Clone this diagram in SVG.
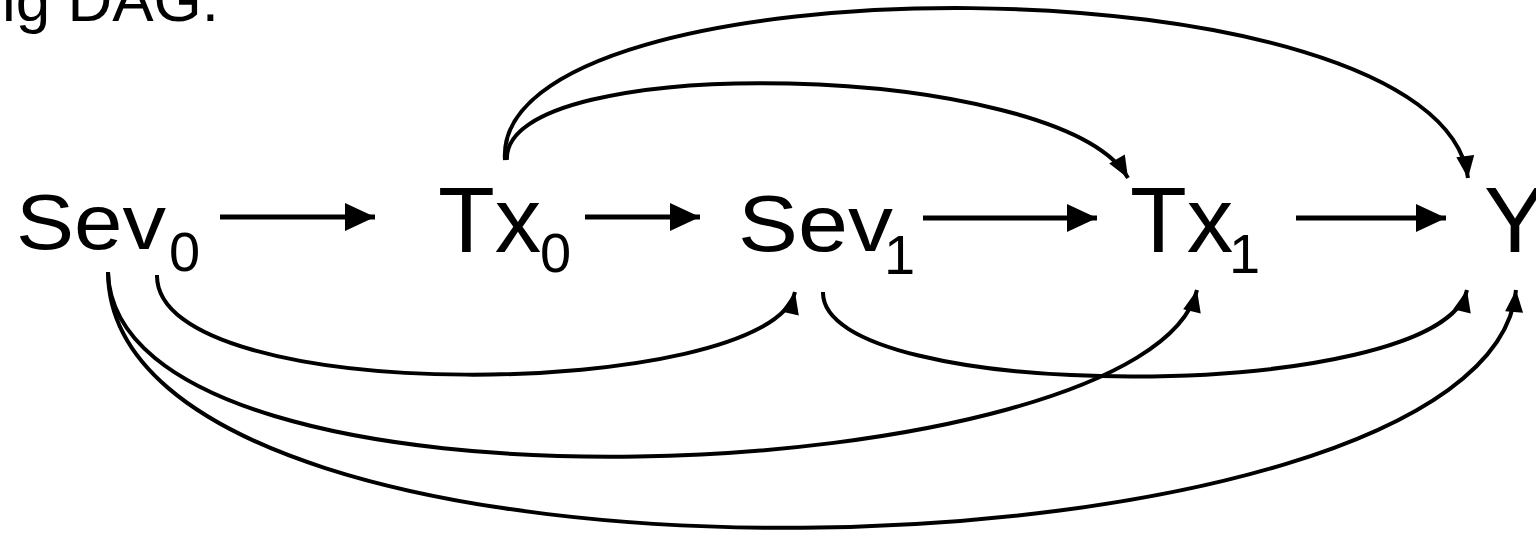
<svg xmlns="http://www.w3.org/2000/svg" width="1536" height="541" viewBox="0 0 1536 541">
  <style>
    .lbl { font-family: "Liberation Sans", Arial, sans-serif; fill: #000; }
    .edge { fill: none; stroke: #000; }
    .straight { stroke-width: 5; marker-end: url(#headBig); }
    .curve { stroke-width: 4; marker-end: url(#headSmall); }
  </style>
  <defs>
    <marker id="headBig" markerUnits="userSpaceOnUse" markerWidth="32" markerHeight="30" refX="30" refY="14" orient="auto" overflow="visible">
      <path d="M0,0 L30,14 L0,28 Z" fill="#000"/>
    </marker>
    <marker id="headSmall" markerUnits="userSpaceOnUse" markerWidth="24" markerHeight="20" refX="22" refY="9" orient="auto" overflow="visible">
      <path d="M0,0 L22,9 L0,18 Z" fill="#000"/>
    </marker>
  </defs>

  <rect width="1536" height="541" fill="#fff"/>

  <text class="lbl" x="2" y="21" font-size="62">ig DAG.</text>

  <g id="connectors">
    <!-- straight chain -->
    <line class="edge straight" x1="220" y1="217" x2="375" y2="217"/>
    <line class="edge straight" x1="585" y1="217" x2="700" y2="217"/>
    <line class="edge straight" x1="923" y1="218" x2="1097" y2="218"/>
    <line class="edge straight" x1="1296" y1="218" x2="1446" y2="218"/>
    <!-- arcs over the top from Tx0 -->
    <path class="edge curve" d="M507,160 C500,50 1060,60 1128,178"/>
    <path class="edge curve" d="M505,160 C490,-45 1440,-46 1468,178"/>
    <!-- arcs underneath -->
    <path class="edge curve" d="M157,275 C155,410 770,400 795,292"/>
    <path class="edge curve" d="M108,272 C115,540 1150,490 1197,290"/>
    <path class="edge curve" d="M108,272 C110,630 1490,590 1516,290"/>
    <path class="edge curve" d="M823,292 C820,405 1440,405 1467,290"/>
  </g>

  <g id="node-sev0">
    <text class="lbl" x="16" y="249" font-size="78" textLength="150" lengthAdjust="spacingAndGlyphs">Sev</text>
    <text class="lbl" x="169" y="271" font-size="56">0</text>
  </g>
  <g id="node-tx0">
    <text class="lbl" x="438" y="252" font-size="93">Tx</text>
    <text class="lbl" x="540" y="272" font-size="56">0</text>
  </g>
  <g id="node-sev1">
    <text class="lbl" x="738" y="251" font-size="80" textLength="155" lengthAdjust="spacingAndGlyphs">Sev</text>
    <text class="lbl" x="884" y="274" font-size="56">1</text>
  </g>
  <g id="node-tx1">
    <text class="lbl" x="1130" y="252" font-size="93">Tx</text>
    <text class="lbl" x="1229" y="273" font-size="56">1</text>
  </g>
  <g id="node-y">
    <text class="lbl" x="1484" y="252" font-size="93">Y</text>
  </g>
</svg>
